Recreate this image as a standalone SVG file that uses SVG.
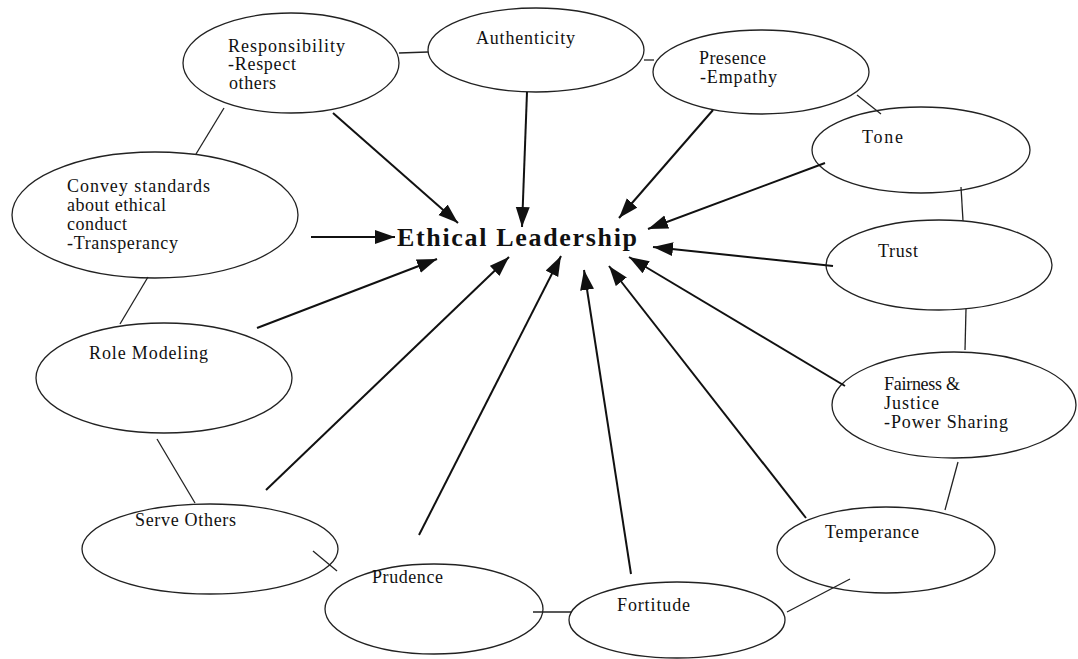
<svg xmlns="http://www.w3.org/2000/svg" width="1078" height="659" viewBox="0 0 1078 659">
<style>
.n ellipse{fill:#fff;stroke:#222;stroke-width:1.3}
.n text{font-family:"Liberation Serif","Times New Roman",serif;font-size:18px;fill:#111}
.c line{stroke:#222;stroke-width:1.3}
.a line{stroke:#111;stroke-width:2}
.title{font-family:"Liberation Serif","Times New Roman",serif;font-size:26px;font-weight:bold;fill:#111}
</style>
<defs>
<marker id="ah" markerUnits="userSpaceOnUse" markerWidth="22" markerHeight="16" refX="20" refY="7" orient="auto">
<path d="M0,0 L20,7 L0,14 Z" fill="#111"/>
</marker>
</defs>
<rect width="1078" height="659" fill="#fff"/>
<g class="n" id="responsibility">
<ellipse cx="291" cy="63" rx="108" ry="50"/>
<text x="228" y="52" textLength="117" lengthAdjust="spacing">Responsibility</text>
<text x="228" y="70" textLength="68" lengthAdjust="spacing">-Respect</text>
<text x="229" y="89" textLength="47" lengthAdjust="spacing">others</text>
</g>
<g class="n" id="authenticity">
<ellipse cx="536" cy="50" rx="108" ry="42"/>
<text x="476" y="44" textLength="99" lengthAdjust="spacing">Authenticity</text>
</g>
<g class="n" id="presence">
<ellipse cx="761" cy="72" rx="108" ry="42"/>
<text x="699" y="64" textLength="67" lengthAdjust="spacing">Presence</text>
<text x="700" y="83" textLength="77" lengthAdjust="spacing">-Empathy</text>
</g>
<g class="n" id="tone">
<ellipse cx="921" cy="150" rx="109" ry="43"/>
<text x="862" y="143" textLength="41" lengthAdjust="spacing">Tone</text>
</g>
<g class="n" id="trust">
<ellipse cx="939" cy="265" rx="113" ry="45"/>
<text x="878" y="257" textLength="40" lengthAdjust="spacing">Trust</text>
</g>
<g class="n" id="convey">
<ellipse cx="155" cy="215" rx="143" ry="63"/>
<text x="67" y="192" textLength="143" lengthAdjust="spacing">Convey standards</text>
<text x="67" y="211" textLength="99" lengthAdjust="spacing">about ethical</text>
<text x="67" y="230" textLength="60" lengthAdjust="spacing">conduct</text>
<text x="67" y="249" textLength="111" lengthAdjust="spacing">-Transperancy</text>
</g>
<g class="n" id="role-modeling">
<ellipse cx="164" cy="378" rx="128" ry="55"/>
<text x="89" y="359" textLength="119" lengthAdjust="spacing">Role Modeling</text>
</g>
<g class="n" id="fairness">
<ellipse cx="954" cy="405" rx="122" ry="53"/>
<text x="884" y="390" textLength="76" lengthAdjust="spacing">Fairness &amp;</text>
<text x="884" y="409" textLength="55" lengthAdjust="spacing">Justice</text>
<text x="884" y="428" textLength="124" lengthAdjust="spacing">-Power Sharing</text>
</g>
<g class="n" id="serve-others">
<ellipse cx="210" cy="549" rx="128" ry="45"/>
<text x="135" y="526" textLength="101" lengthAdjust="spacing">Serve Others</text>
</g>
<g class="n" id="temperance">
<ellipse cx="886" cy="550" rx="109" ry="43"/>
<text x="825" y="538" textLength="94" lengthAdjust="spacing">Temperance</text>
</g>
<g class="n" id="prudence">
<ellipse cx="434" cy="609" rx="109" ry="45"/>
<text x="372" y="583" textLength="71" lengthAdjust="spacing">Prudence</text>
</g>
<g class="n" id="fortitude">
<ellipse cx="677" cy="620" rx="108" ry="38"/>
<text x="617" y="611" textLength="73" lengthAdjust="spacing">Fortitude</text>
</g>
<g id="ethical-leadership">
<text class="title" x="397" y="246" textLength="240" lengthAdjust="spacing">Ethical Leadership</text>
</g>
<g class="c" id="connectors">
<line x1="399" y1="53" x2="428" y2="52"/>
<line x1="644" y1="60" x2="654" y2="60"/>
<line x1="857" y1="95" x2="881" y2="114"/>
<line x1="961" y1="187" x2="963" y2="221"/>
<line x1="966" y1="309" x2="965" y2="350"/>
<line x1="958" y1="462" x2="945" y2="510"/>
<line x1="787" y1="612" x2="850" y2="579"/>
<line x1="533" y1="612" x2="572" y2="612"/>
<line x1="313" y1="551" x2="337" y2="571"/>
<line x1="157" y1="439" x2="195" y2="503"/>
<line x1="148" y1="277" x2="120" y2="324"/>
<line x1="196" y1="154" x2="224" y2="108"/>
</g>
<g class="a" id="arrows">
<line x1="333" y1="113" x2="458" y2="223" marker-end="url(#ah)"/>
<line x1="527" y1="92" x2="522" y2="227" marker-end="url(#ah)"/>
<line x1="713" y1="110" x2="619" y2="218" marker-end="url(#ah)"/>
<line x1="825" y1="163" x2="648" y2="229" marker-end="url(#ah)"/>
<line x1="833" y1="266" x2="653" y2="247" marker-end="url(#ah)"/>
<line x1="845" y1="386" x2="629" y2="257" marker-end="url(#ah)"/>
<line x1="806" y1="518" x2="609" y2="266" marker-end="url(#ah)"/>
<line x1="631" y1="574" x2="584" y2="270" marker-end="url(#ah)"/>
<line x1="419" y1="535" x2="561" y2="256" marker-end="url(#ah)"/>
<line x1="266" y1="490" x2="509" y2="257" marker-end="url(#ah)"/>
<line x1="257" y1="328" x2="437" y2="259" marker-end="url(#ah)"/>
<line x1="311" y1="237" x2="395" y2="237" marker-end="url(#ah)"/>
</g>
</svg>
